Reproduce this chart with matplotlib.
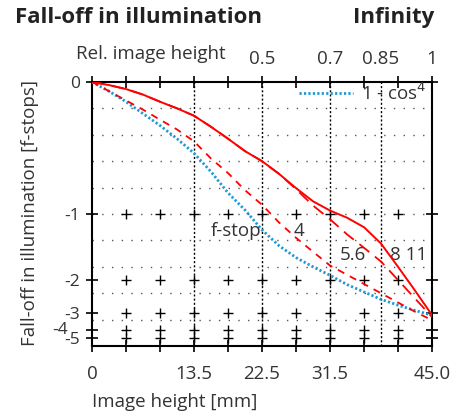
import numpy as np
import matplotlib
matplotlib.use("Agg")
import matplotlib.pyplot as plt
from matplotlib.transforms import ScaledTranslation

plt.rcParams['font.family'] = ['Open Sans', 'DejaVu Sans']

# image height [mm]
image_height = [0, 2.25, 4.5, 6.75, 9, 11.25, 13.5, 15.75, 18, 20.25, 22.5,
                24.75, 27, 29.25, 31.5, 33.75, 36, 38.25, 40.5, 42.75, 45]

# relative illumination (1 = centre)
cos4 = [1.0, 0.965, 0.925, 0.88, 0.835, 0.785, 0.73, 0.66, 0.58, 0.515, 0.44,
        0.38, 0.335, 0.30, 0.268, 0.233, 0.205, 0.177, 0.155, 0.135, 0.117]
f4 = [1.0, 0.965, 0.93, 0.895, 0.857, 0.82, 0.775, 0.71, 0.655, 0.59, 0.535,
      0.468, 0.41, 0.357, 0.305, 0.27, 0.235, 0.20, 0.165, 0.13, 0.098]
f56 = [1.0, 0.988, 0.973, 0.952, 0.925, 0.9, 0.872, 0.83, 0.785, 0.738, 0.70,
       0.652, 0.594, 0.532, 0.48, 0.423, 0.372, 0.32, 0.25, 0.18, 0.11]
f8_11 = [1.0, 0.988, 0.973, 0.952, 0.925, 0.9, 0.872, 0.83, 0.785, 0.738, 0.70,
         0.652, 0.598, 0.548, 0.513, 0.486, 0.45, 0.388, 0.30, 0.21, 0.117]

stops = [0, -1, -2, -3, -4, -5]
x_ticks = np.arange(0, 45.01, 4.5)
x_labels = {0: '0', 13.5: '13.5', 22.5: '22.5', 31.5: '31.5', 45: '45.0'}
rel_heights = [0.5, 0.7, 0.85, 1]
rel_labels = ['0.5', '0.7', '0.85', '1']
max_height = 45.0

txt = '#333333'
red = '#ff0000'
blue = '#1f9ad6'
fs = 13.5

fig = plt.figure(figsize=(4.51, 4.18), dpi=100)
ax = fig.add_axes([0.204, 0.172, 0.754, 0.632])

stop_pos = [2.0 ** s for s in stops]

# grid: dotted horizontal lines every 10 % illumination
for lvl in np.arange(0.1, 0.95, 0.1):
    ax.axhline(lvl, color='#555555', lw=1.0, ls=(0, (1, 6)), zorder=1)
# vertical dotted lines at the labelled image heights
for xv in [13.5, 22.5, 31.5, 0.85 * max_height]:
    ax.axvline(xv, color='black', lw=1.0, ls=(0, (1.5, 1.5)), zorder=1)
# crosses at the stop levels
gx, gy = np.meshgrid(x_ticks[1:-1], stop_pos[1:])
ax.plot(gx.ravel(), gy.ravel(), '+', color='black', ms=7, mew=1.0, zorder=2)

ax.plot(image_height, cos4, color=blue, lw=2.0, ls=(0, (0.8, 0.8)), zorder=3,
        label='1 - cos$^4$')
ax.plot(image_height, f4, color=red, lw=1.3, ls=(0, (4, 3.5)), zorder=4)
ax.plot(image_height, f56, color=red, lw=1.3, ls=(0, (7, 4)), zorder=4)
ax.plot(image_height, f8_11, color=red, lw=1.4, zorder=5)

ax.set_xlim(0, max_height)
ax.set_ylim(0, 1)

ax.set_xticks(x_ticks)
ax.set_xticklabels([x_labels.get(round(v, 2), '') for v in x_ticks])
ax.set_yticks(stop_pos)
ax.set_yticklabels([str(s) for s in stops])
ax.tick_params(axis='x', direction='inout', length=9, width=1.2, pad=9,
               labelsize=fs, labelcolor=txt, top=True)
ax.tick_params(axis='y', direction='inout', length=9, width=1.2, pad=4,
               labelsize=12.5, labelcolor=txt, right=True)
for sp in ax.spines.values():
    sp.set_linewidth(1.5)

# nudge the crowded -4 label
lab4 = ax.get_yticklabels()[4]
lab4.set_transform(lab4.get_transform() +
                   ScaledTranslation(-9 / 72, 1.5 / 72, fig.dpi_scale_trans))

# relative image height along the top
sec = ax.secondary_xaxis('top', functions=(lambda x: x / max_height,
                                           lambda r: r * max_height))
sec.set_xticks(rel_heights)
sec.set_xticklabels(rel_labels)
sec.tick_params(length=0, pad=10, labelsize=fs, labelcolor=txt)
sec.spines['top'].set_visible(False)
ax.text(0.392, 1.106, 'Rel. image height', transform=ax.transAxes,
        ha='right', va='center', fontsize=fs, color=txt)

ax.set_xlabel('Image height [mm]', loc='left', fontsize=fs, color=txt,
              labelpad=7)
ax.set_ylabel('Fall-off in illumination [f-stops]', loc='bottom', fontsize=fs,
              color=txt, labelpad=9)

ax.legend(loc='upper right', frameon=False, fontsize=fs, handlelength=2.9,
          handletextpad=0.4, borderaxespad=0.0, borderpad=0.3, labelcolor=txt,
          bbox_to_anchor=(1.0, 1.02))

# aperture labels
ax.text(19.1, 0.436, 'f-stop', fontsize=fs, color=txt, ha='center', va='center')
ax.text(27.4, 0.436, '4', fontsize=fs, color=txt, ha='center', va='center')
ax.text(34.5, 0.345, '5.6', fontsize=fs, color=txt, ha='center', va='center')
ax.text(41.9, 0.345, '8 11', fontsize=fs, color=txt, ha='center', va='center')

fig.text(0.033, 0.958, 'Fall-off in illumination', fontsize=16,
         fontweight='bold', color='#222222', ha='left', va='center')
fig.text(0.962, 0.958, 'Infinity', fontsize=16, fontweight='bold',
         color='#222222', ha='right', va='center')

fig.savefig('out.png', dpi=100)
